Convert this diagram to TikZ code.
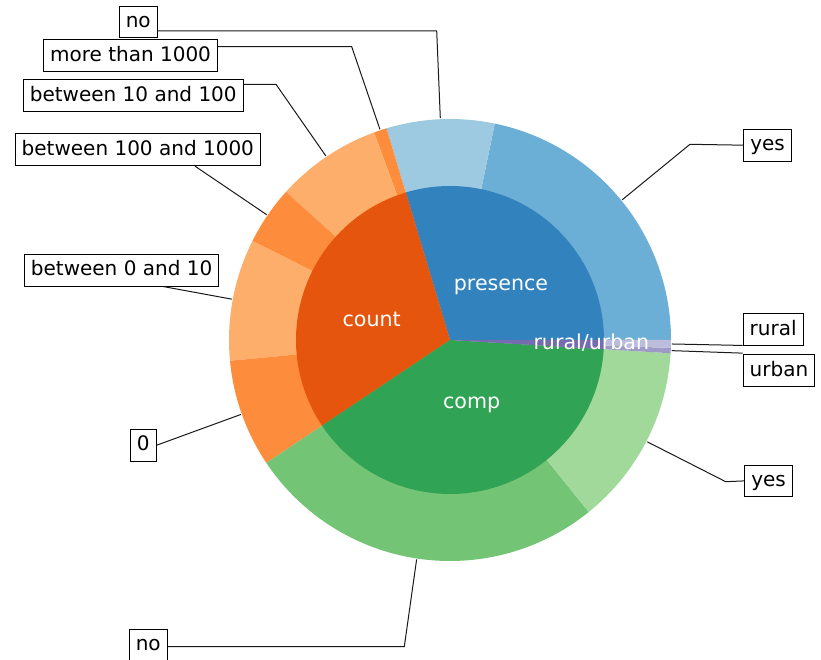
\documentclass[tikz,border=0pt]{standalone}
\usepackage{fontspec}
\setmainfont{DejaVu Sans}
\usepackage{xcolor}
\usetikzlibrary{positioning}

\definecolor{presence}{HTML}{3182BD}
\definecolor{presyes}{HTML}{6BAED6}
\definecolor{presno}{HTML}{9ECAE1}
\definecolor{count}{HTML}{E6550D}
\definecolor{countdark}{HTML}{FD8D3C}
\definecolor{countlight}{HTML}{FDAE6B}
\definecolor{comp}{HTML}{31A354}
\definecolor{compno}{HTML}{74C476}
\definecolor{compyes}{HTML}{A1D99B}
\definecolor{ruralurban}{HTML}{756BB1}
\definecolor{rural}{HTML}{BCBDDC}
\definecolor{urban}{HTML}{9E9AC8}

\begin{document}
\begin{tikzpicture}[x=1pt, y=1pt,
		tag/.style={draw=black, line width=1pt, fill=white, font=\fontsize{20}{24}\selectfont,
			text height=15.5pt, text depth=4pt, inner xsep=6.5pt, inner ysep=6.1pt},
		inlabel/.style={text=white, font=\fontsize{20.6}{24}\selectfont, anchor=base},
		leader/.style={draw=black!90, line width=1pt}
		]
	\useasboundingbox (-450,-320) rectangle (371,340);

	% outer ring (full sectors, inner pie covers the middle)
	\fill[presyes] (0,0) -- (0:221) arc[start angle=0, end angle=78.3, radius=221] -- cycle;
	\fill[presno] (0,0) -- (78.3:221) arc[start angle=78.3, end angle=106.7, radius=221] -- cycle;
	\fill[countdark] (0,0) -- (106.7:221) arc[start angle=106.7, end angle=110.1, radius=221] -- cycle;
	\fill[countlight] (0,0) -- (110.1:221) arc[start angle=110.1, end angle=137.9, radius=221] -- cycle;
	\fill[countdark] (0,0) -- (137.9:221) arc[start angle=137.9, end angle=153.4, radius=221] -- cycle;
	\fill[countlight] (0,0) -- (153.4:221) arc[start angle=153.4, end angle=185.4, radius=221] -- cycle;
	\fill[countdark] (0,0) -- (185.4:221) arc[start angle=185.4, end angle=213.8, radius=221] -- cycle;
	\fill[compno] (0,0) -- (213.8:221) arc[start angle=213.8, end angle=308.9, radius=221] -- cycle;
	\fill[compyes] (0,0) -- (308.9:221) arc[start angle=308.9, end angle=356.56, radius=221] -- cycle;
	\fill[urban] (0,0) -- (356.56:221) arc[start angle=356.56, end angle=357.94, radius=221] -- cycle;
	\fill[rural] (0,0) -- (357.94:221) arc[start angle=357.94, end angle=360, radius=221] -- cycle;

	% inner pie
	\fill[presence] (0,0) -- (0:154) arc[start angle=0, end angle=106.7, radius=154] -- cycle;
	\fill[count] (0,0) -- (106.7:154) arc[start angle=106.7, end angle=213.8, radius=154] -- cycle;
	\fill[comp] (0,0) -- (213.8:154) arc[start angle=213.8, end angle=356.56, radius=154] -- cycle;
	\fill[ruralurban] (0,0) -- (356.56:154) arc[start angle=356.56, end angle=360, radius=154] -- cycle;

	\node[inlabel] (presence) at (51, 49.3) {presence};
	\node[inlabel] (count) at (-78.3, 13.3) {count};
	\node[inlabel] (comp) at (21.7, -68.3) {comp};
	\node[inlabel] (ruralurban) at (141.3, -9.3) {rural/urban};

	% outer labels
	\node[tag, anchor=east] (notop) at (-292.3, 318) {no};
	\node[tag, anchor=east] (more) at (-232, 284.2) {more than 1000};
	\node[tag, anchor=east] (tenhundred) at (-206.3, 244.7) {between 10 and 100};
	\node[tag, anchor=east] (hundredk) at (-189, 190.2) {between 100 and 1000};
	\node[tag, anchor=east] (zeroten) at (-230.7, 69.8) {between 0 and 10};
	\node[tag, anchor=east] (zero) at (-293.3, -105.2) {0};
	\node[tag, anchor=east] (nobot) at (-282.3, -305.2) {no};
	\node[tag, anchor=west] (yestop) at (293.3, 194.8) {yes};
	\node[tag, anchor=west] (rural) at (292.7, 10.2) {rural};
	\node[tag, anchor=west] (urban) at (292.7, -30.5) {urban};
	\node[tag, anchor=west] (yesbot) at (294.3, -140.9) {yes};

	\coordinate (kno) at (-13.3, 309);
	\coordinate (kmore) at (-98.3, 293.3);
	\coordinate (kten) at (-174, 255.7);
	\coordinate (knobot) at (-45.7, -306.7);
	\coordinate (kyestop) at (240, 195.7);
	\coordinate (kyesbot) at (275.7, -141.7);

	\draw[leader] ([yshift=-9pt]notop.east) -- (kno) -- (92.5:222);
	\draw[leader] ([yshift=9.1pt]more.east) -- (kmore) -- (108.4:222);
	\draw[leader] ([yshift=11pt]tenhundred.east) -- (kten) -- (124:222);
	\draw[leader] ([xshift=-66pt]hundredk.south east) -- (145.65:222);
	\draw[leader] ([xshift=-56pt]zeroten.south east) -- (169.4:222);
	\draw[leader] (zero.east) -- (199.6:222);
	\draw[leader] ([yshift=-1.5pt]nobot.east) -- (knobot) -- (261.35:222);
	\draw[leader] (yestop.west) -- (kyestop) -- (39.15:222);
	\draw[leader] ([yshift=0.7pt]rural.south west) -- (-1.03:222);
	\draw[leader] ([yshift=1pt]urban.north west) -- (-2.75:222);
	\draw[leader] (yesbot.west) -- (kyesbot) -- (332.7:222);

\end{tikzpicture}
\end{document}
